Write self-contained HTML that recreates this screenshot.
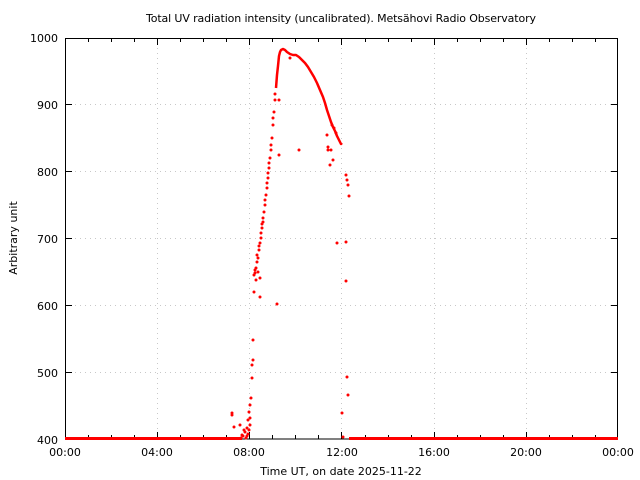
<!DOCTYPE html>
<html><head><meta charset="utf-8"><style>
html,body{margin:0;padding:0;background:#fff}
svg{display:block;font-family:"DejaVu Sans","Liberation Sans",sans-serif}
</style></head><body>
<svg width="640" height="480" viewBox="0 0 640 480" xmlns="http://www.w3.org/2000/svg">
<rect width="640" height="480" fill="#fff"/>
<g stroke="#c8c8c8" stroke-width="1" stroke-dasharray="1,4">
<line x1="157.5" y1="38" x2="157.5" y2="439"/><line x1="249.5" y1="38" x2="249.5" y2="439"/>
<line x1="341.5" y1="38" x2="341.5" y2="439"/><line x1="434.5" y1="38" x2="434.5" y2="439"/>
<line x1="526.5" y1="38" x2="526.5" y2="439"/>
<line x1="65" y1="104.5" x2="618" y2="104.5"/><line x1="65" y1="171.5" x2="618" y2="171.5"/>
<line x1="65" y1="238.5" x2="618" y2="238.5"/><line x1="65" y1="305.5" x2="618" y2="305.5"/>
<line x1="65" y1="372.5" x2="618" y2="372.5"/>
</g>
<g stroke="#000" stroke-width="1">
<path d="M88.5 439v-4M111.5 439v-4M134.5 439v-4M157.5 439v-7M180.5 439v-4M203.5 439v-4M226.5 439v-4M249.5 439v-7M272.5 439v-4M295.5 439v-4M318.5 439v-4M341.5 439v-7M365.5 439v-4M388.5 439v-4M411.5 439v-4M434.5 439v-7M457.5 439v-4M480.5 439v-4M503.5 439v-4M526.5 439v-7M549.5 439v-4M572.5 439v-4M595.5 439v-4"/>
<path d="M88.5 38v4M111.5 38v4M134.5 38v4M157.5 38v7M180.5 38v4M203.5 38v4M226.5 38v4M249.5 38v7M272.5 38v4M295.5 38v4M318.5 38v4M341.5 38v7M365.5 38v4M388.5 38v4M411.5 38v4M434.5 38v7M457.5 38v4M480.5 38v4M503.5 38v4M526.5 38v7M549.5 38v4M572.5 38v4M595.5 38v4"/>
<path d="M65 104.5h7M65 171.5h7M65 238.5h7M65 305.5h7M65 372.5h7M618 104.5h-7M618 171.5h-7M618 238.5h-7M618 305.5h-7M618 372.5h-7"/>
</g>
<rect x="65.5" y="38.5" width="552" height="400.5" fill="none" stroke="#000" stroke-width="1"/>
<g fill="red">
<rect x="65" y="437" width="177" height="3"/>
<rect x="349" y="437" width="269" height="3"/>
</g>
<polyline fill="none" stroke="red" stroke-width="2.5" stroke-linejoin="round" points="276,88 277,75 278,66 279,56 280,52 281,50 283,49 285,50 287,52 290,54 293,55 296,55 299,57 302,60 305,63 308,67 311,72 314,77 317,83 320,90 323,97 325,103 327,110 329,116 331,122 333,127 335,131 337,136 339,140 341,144 342,143"/>
<path fill="none" stroke="red" stroke-width="3" stroke-linecap="round" d="
M232 415h0M232 413h0M234 427h0M240 425h0M242 435h0M245 432h0M247 428h0M248 420h0M249 412h0M250 405h0M251 398h0M252 378h0M252 365h0M253 360h0M253 340h0
M243 436h0M246 438h0M248 434h0M244 430h0M241 438h0M247 436h0M249 430h0M250 425h0M250 418h0
M254 275h0M255 273h0M256 268h0M257 262h0M258 258h0M259 250h0M260 243h0M261 238h0M262 228h0M263 218h0M264 212h0M265 205h0M266 195h0M267 188h0M268 178h0M269 168h0M270 158h0M271 150h0M272 138h0M273 125h0M274 112h0M275 100h0
M257 255h0M259 246h0M261 233h0M263 222h0M265 200h0M267 183h0M269 163h0M271 145h0M273 118h0M275 94h0M255 270h0M262 224h0M268 173h0
M346 175h0M347 180h0M348 185h0M349 196h0
M254 292h0M260 297h0M277 304h0M279 155h0M299 150h0M328 150h0M330 165h0M337 243h0M346 242h0M346 281h0M347 377h0M348 395h0M342 413h0M343 437h0M260 278h0M256 280h0M258 272h0M279 100h0M290 58h0M327 135h0M331 150h0M333 160h0M328 147h0M332 125h0M334 128h0M336 133h0
"/>
<g font-size="11" fill="#000">
<text x="341" y="22" text-anchor="middle" textLength="390">Total UV radiation intensity (uncalibrated). Metsähovi Radio Observatory</text>
<g text-anchor="end">
<text x="58" y="42">1000</text><text x="58" y="109">900</text><text x="58" y="176">800</text>
<text x="58" y="243">700</text><text x="58" y="310">600</text><text x="58" y="377">500</text><text x="58" y="444">400</text>
</g>
<g text-anchor="middle">
<text x="65" y="456">00:00</text><text x="157" y="456">04:00</text><text x="249" y="456">08:00</text>
<text x="342" y="456">12:00</text><text x="434" y="456">16:00</text><text x="526" y="456">20:00</text><text x="618" y="456">00:00</text>
<text x="341" y="475">Time UT, on date 2025-11-22</text>
</g>
<text transform="translate(17,238) rotate(-90)" text-anchor="middle">Arbitrary unit</text>
</g>
</svg>
</body></html>
